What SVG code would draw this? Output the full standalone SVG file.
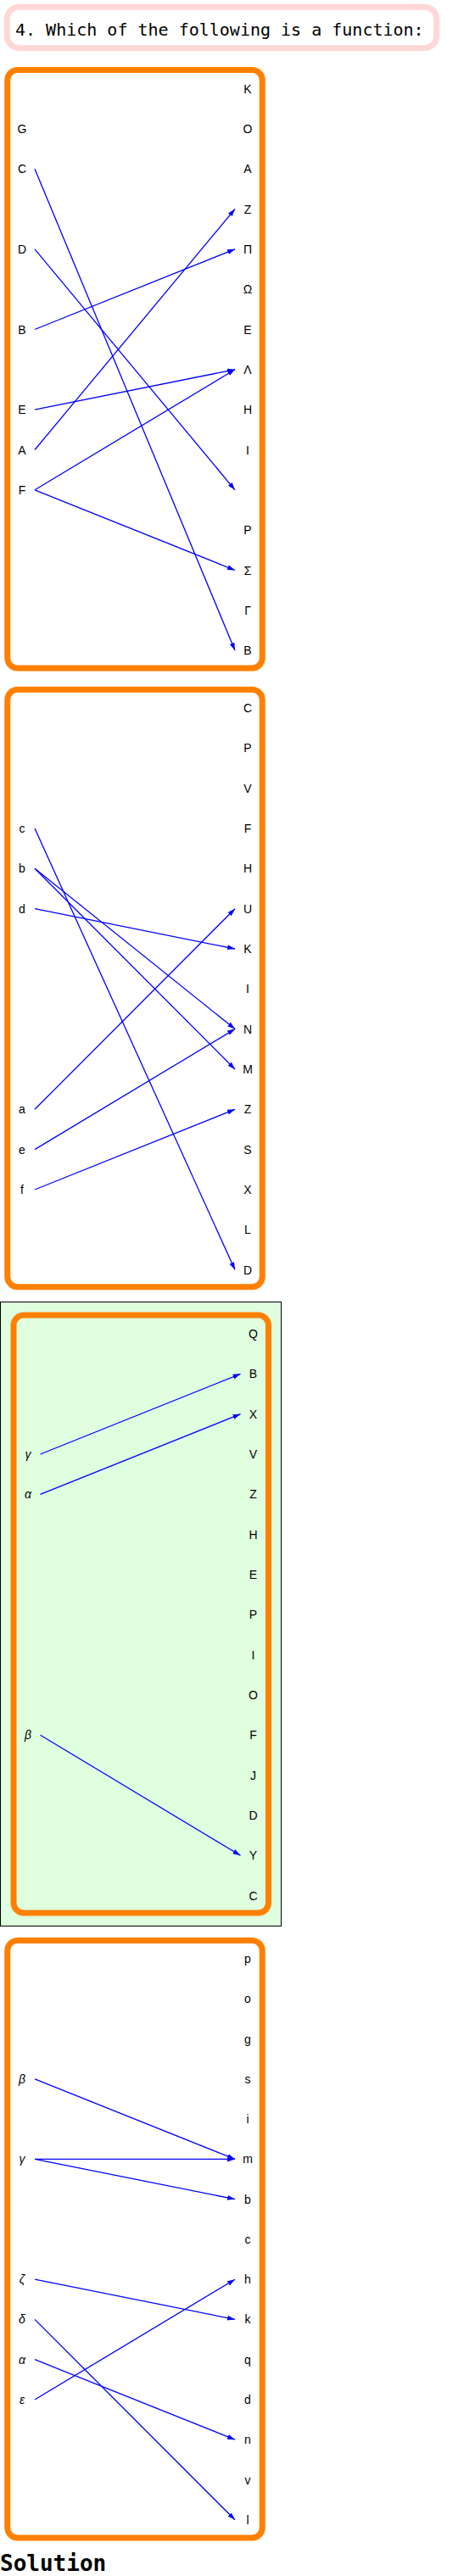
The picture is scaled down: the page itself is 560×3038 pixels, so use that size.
<svg xmlns="http://www.w3.org/2000/svg" width="560" height="3038" viewBox="0 0 560 3038">
<style>
.lbl{font-family:"Liberation Sans",Arial,sans-serif;font-size:14px;fill:#000;text-anchor:middle}
.gk{font-style:italic}
.panel{fill:none;stroke:#ff8000;stroke-width:7}
.edge{stroke:#0000ff;stroke-width:1.3;fill:none;marker-end:url(#ah)}
.title{font-family:"DejaVu Sans Mono",monospace;font-size:20px;fill:#000}
.sol{font-family:"DejaVu Sans Mono",monospace;font-size:26px;font-weight:bold;fill:#000}
</style>
<defs>
<marker id="ah" markerUnits="userSpaceOnUse" markerWidth="10" markerHeight="7" refX="9" refY="3" orient="auto">
<path d="M0,0 L9,3 L0,6 z" fill="#0000ff"/>
</marker>
</defs>
<g id="title">
<rect x="8.3" y="8.3" width="506.4" height="48.4" rx="14" fill="#fff" stroke="#ffd7d7" stroke-width="7"/>
<text class="title" x="18" y="41.7">4. Which of the following is a function:</text>
</g>

<!-- Panel 1 -->
<g id="panel1">
<rect class="panel" x="8.75" y="82.5" width="300.5" height="705.5" rx="12"/>
<g id="p1-l-G"><text class="lbl" x="26" y="156.8">G</text></g>
<g id="p1-l-C"><text class="lbl" x="26" y="204.2">C</text></g>
<g id="p1-l-D"><text class="lbl" x="26" y="298.8">D</text></g>
<g id="p1-l-B"><text class="lbl" x="26" y="393.5">B</text></g>
<g id="p1-l-E"><text class="lbl" x="26" y="488.1">E</text></g>
<g id="p1-l-A"><text class="lbl" x="26" y="535.5">A</text></g>
<g id="p1-l-F"><text class="lbl" x="26" y="582.8">F</text></g>
<g id="p1-r-K"><text class="lbl" x="292" y="109.5">K</text></g>
<g id="p1-r-O"><text class="lbl" x="292" y="156.8">O</text></g>
<g id="p1-r-A"><text class="lbl" x="292" y="204.2">A</text></g>
<g id="p1-r-Z"><text class="lbl" x="292" y="251.5">Z</text></g>
<g id="p1-r-Pi"><text class="lbl" x="292" y="298.8">Π</text></g>
<g id="p1-r-Omega"><text class="lbl" x="292" y="346.2">Ω</text></g>
<g id="p1-r-E"><text class="lbl" x="292" y="393.5">E</text></g>
<g id="p1-r-Lambda"><text class="lbl" x="292" y="440.8">Λ</text></g>
<g id="p1-r-H"><text class="lbl" x="292" y="488.1">H</text></g>
<g id="p1-r-I"><text class="lbl" x="292" y="535.5">I</text></g>
<g id="p1-r-P"><text class="lbl" x="292" y="630.1">P</text></g>
<g id="p1-r-Sigma"><text class="lbl" x="292" y="677.5">Σ</text></g>
<g id="p1-r-Gamma"><text class="lbl" x="292" y="724.8">Γ</text></g>
<g id="p1-r-B"><text class="lbl" x="292" y="772.1">B</text></g>
</g>

<!-- Panel 2 -->
<g id="panel2">
<rect class="panel" x="8.75" y="813.3" width="300.5" height="704.5" rx="12"/>
<g id="p2-l-c"><text class="lbl" x="26" y="982">c</text></g>
<g id="p2-l-b"><text class="lbl" x="26" y="1029.3">b</text></g>
<g id="p2-l-d"><text class="lbl" x="26" y="1076.7">d</text></g>
<g id="p2-l-a"><text class="lbl" x="26" y="1313.3">a</text></g>
<g id="p2-l-e"><text class="lbl" x="26" y="1360.6">e</text></g>
<g id="p2-l-f"><text class="lbl" x="26" y="1408">f</text></g>
<g id="p2-r-C"><text class="lbl" x="292" y="840">C</text></g>
<g id="p2-r-P"><text class="lbl" x="292" y="887.3">P</text></g>
<g id="p2-r-V"><text class="lbl" x="292" y="934.7">V</text></g>
<g id="p2-r-F"><text class="lbl" x="292" y="982">F</text></g>
<g id="p2-r-H"><text class="lbl" x="292" y="1029.3">H</text></g>
<g id="p2-r-U"><text class="lbl" x="292" y="1076.7">U</text></g>
<g id="p2-r-K"><text class="lbl" x="292" y="1124">K</text></g>
<g id="p2-r-I"><text class="lbl" x="292" y="1171.3">I</text></g>
<g id="p2-r-N"><text class="lbl" x="292" y="1218.6">N</text></g>
<g id="p2-r-M"><text class="lbl" x="292" y="1266">M</text></g>
<g id="p2-r-Z"><text class="lbl" x="292" y="1313.3">Z</text></g>
<g id="p2-r-S"><text class="lbl" x="292" y="1360.6">S</text></g>
<g id="p2-r-X"><text class="lbl" x="292" y="1408">X</text></g>
<g id="p2-r-L"><text class="lbl" x="292" y="1455.3">L</text></g>
<g id="p2-r-D"><text class="lbl" x="292" y="1502.6">D</text></g>
</g>

<!-- Panel 3 (highlighted) -->
<g id="panel3">
<rect x="0.5" y="1535.5" width="331" height="736" fill="#dfffdf" stroke="#000" stroke-width="1"/>
<rect class="panel" x="16" y="1551" width="300.5" height="705" rx="12"/>
<g id="p3-l-gamma"><text class="lbl gk" x="33" y="1720">γ</text></g>
<g id="p3-l-alpha"><text class="lbl gk" x="33" y="1767.3">α</text></g>
<g id="p3-l-beta"><text class="lbl gk" x="33" y="2051.3">β</text></g>
<g id="p3-r-Q"><text class="lbl" x="298.5" y="1578">Q</text></g>
<g id="p3-r-B"><text class="lbl" x="298.5" y="1625.3">B</text></g>
<g id="p3-r-X"><text class="lbl" x="298.5" y="1672.7">X</text></g>
<g id="p3-r-V"><text class="lbl" x="298.5" y="1720">V</text></g>
<g id="p3-r-Z"><text class="lbl" x="298.5" y="1767.3">Z</text></g>
<g id="p3-r-H"><text class="lbl" x="298.5" y="1814.7">H</text></g>
<g id="p3-r-E"><text class="lbl" x="298.5" y="1862">E</text></g>
<g id="p3-r-P"><text class="lbl" x="298.5" y="1909.3">P</text></g>
<g id="p3-r-I"><text class="lbl" x="298.5" y="1956.6">I</text></g>
<g id="p3-r-O"><text class="lbl" x="298.5" y="2004">O</text></g>
<g id="p3-r-F"><text class="lbl" x="298.5" y="2051.3">F</text></g>
<g id="p3-r-J"><text class="lbl" x="298.5" y="2098.6">J</text></g>
<g id="p3-r-D"><text class="lbl" x="298.5" y="2146">D</text></g>
<g id="p3-r-Y"><text class="lbl" x="298.5" y="2193.3">Y</text></g>
<g id="p3-r-C"><text class="lbl" x="298.5" y="2240.6">C</text></g>
</g>

<!-- Panel 4 -->
<g id="panel4">
<rect class="panel" x="8.75" y="2288.5" width="300.5" height="704.5" rx="12"/>
<g id="p4-l-beta"><text class="lbl gk" x="26" y="2456.8">β</text></g>
<g id="p4-l-gamma"><text class="lbl gk" x="26" y="2551.4">γ</text></g>
<g id="p4-l-zeta"><text class="lbl gk" x="26" y="2693.2">ζ</text></g>
<g id="p4-l-delta"><text class="lbl gk" x="26" y="2740.4">δ</text></g>
<g id="p4-l-alpha"><text class="lbl gk" x="26" y="2787.7">α</text></g>
<g id="p4-l-epsilon"><text class="lbl gk" x="26" y="2835">ε</text></g>
<g id="p4-r-p"><text class="lbl" x="292" y="2315">p</text></g>
<g id="p4-r-o"><text class="lbl" x="292" y="2362.3">o</text></g>
<g id="p4-r-g"><text class="lbl" x="292" y="2409.5">g</text></g>
<g id="p4-r-s"><text class="lbl" x="292" y="2456.8">s</text></g>
<g id="p4-r-i"><text class="lbl" x="292" y="2504.1">i</text></g>
<g id="p4-r-m"><text class="lbl" x="292" y="2551.4">m</text></g>
<g id="p4-r-b"><text class="lbl" x="292" y="2598.6">b</text></g>
<g id="p4-r-c"><text class="lbl" x="292" y="2645.9">c</text></g>
<g id="p4-r-h"><text class="lbl" x="292" y="2693.2">h</text></g>
<g id="p4-r-k"><text class="lbl" x="292" y="2740.4">k</text></g>
<g id="p4-r-q"><text class="lbl" x="292" y="2787.7">q</text></g>
<g id="p4-r-d"><text class="lbl" x="292" y="2835">d</text></g>
<g id="p4-r-n"><text class="lbl" x="292" y="2882.2">n</text></g>
<g id="p4-r-v"><text class="lbl" x="292" y="2929.5">v</text></g>
<g id="p4-r-l"><text class="lbl" x="292" y="2976.8">l</text></g>
</g>

<g id="connectors">
<!-- panel 1 -->
<line class="edge" x1="41" y1="199.2" x2="277" y2="767.1"/>
<line class="edge" x1="41" y1="293.8" x2="277" y2="577.8"/>
<line class="edge" x1="41" y1="388.5" x2="277" y2="293.8"/>
<line class="edge" x1="41" y1="483.1" x2="277" y2="435.8"/>
<line class="edge" x1="41" y1="530.5" x2="277" y2="246.5"/>
<line class="edge" x1="41" y1="577.8" x2="277" y2="435.8"/>
<line class="edge" x1="41" y1="577.8" x2="277" y2="672.5"/>
<!-- panel 2 -->
<line class="edge" x1="41" y1="977" x2="277" y2="1497.6"/>
<line class="edge" x1="41" y1="1024.3" x2="277" y2="1213.6"/>
<line class="edge" x1="41" y1="1024.3" x2="277" y2="1261"/>
<line class="edge" x1="41" y1="1071.7" x2="277" y2="1119"/>
<line class="edge" x1="41" y1="1308.3" x2="277" y2="1071.7"/>
<line class="edge" x1="41" y1="1355.6" x2="277" y2="1213.6"/>
<line class="edge" x1="41" y1="1403" x2="277" y2="1308.3"/>
<!-- panel 3 -->
<line class="edge" x1="47.5" y1="1715" x2="283.5" y2="1620.3"/>
<line class="edge" x1="47.5" y1="1762.3" x2="283.5" y2="1667.7"/>
<line class="edge" x1="47.5" y1="2046.3" x2="283.5" y2="2188.3"/>
<!-- panel 4 -->
<line class="edge" x1="41" y1="2451.8" x2="277" y2="2546.4"/>
<line class="edge" x1="41" y1="2546.4" x2="277" y2="2546.4"/>
<line class="edge" x1="41" y1="2546.4" x2="277" y2="2593.6"/>
<line class="edge" x1="41" y1="2688.2" x2="277" y2="2735.4"/>
<line class="edge" x1="41" y1="2735.4" x2="277" y2="2971.8"/>
<line class="edge" x1="41" y1="2782.7" x2="277" y2="2877.2"/>
<line class="edge" x1="41" y1="2830" x2="277" y2="2688.2"/>
</g>

<text class="sol" x="0" y="3032">Solution</text>
</svg>
